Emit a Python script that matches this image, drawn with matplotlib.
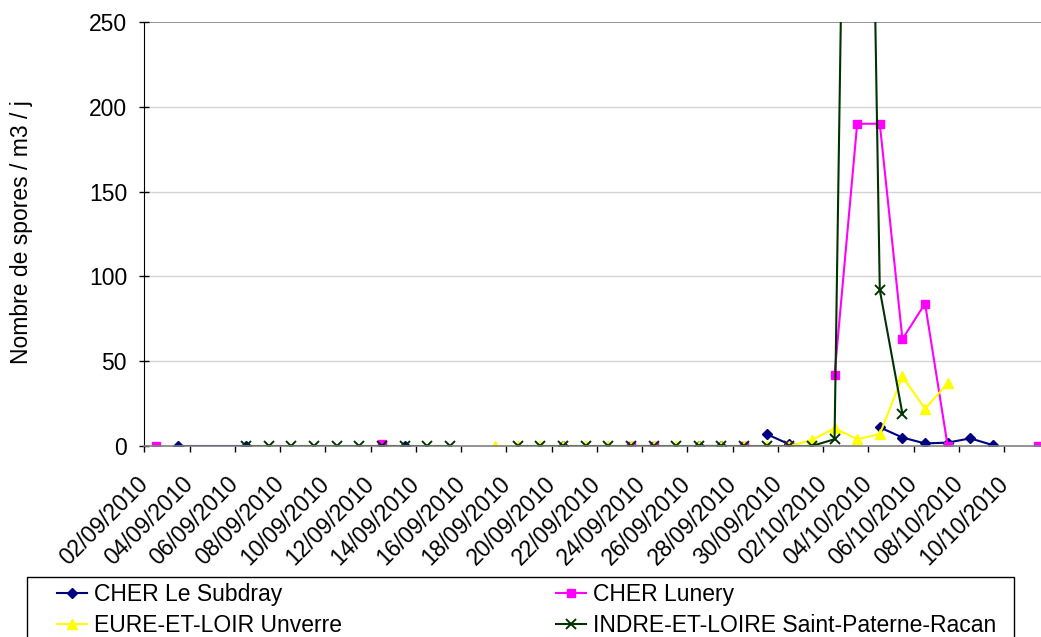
"""Nombre de spores / m3 / j - Sept./Oct. 2010, four trap sites."""
import numpy as np
import matplotlib
matplotlib.use('Agg')
import matplotlib.pyplot as plt
import matplotlib.transforms as mtransforms
from matplotlib.patches import Rectangle

plt.rcParams['font.family'] = ['Liberation Sans', 'DejaVu Sans']

dates = ['02/09/2010', '03/09/2010', '04/09/2010', '05/09/2010', '06/09/2010',
         '07/09/2010', '08/09/2010', '09/09/2010', '10/09/2010', '11/09/2010',
         '12/09/2010', '13/09/2010', '14/09/2010', '15/09/2010', '16/09/2010',
         '17/09/2010', '18/09/2010', '19/09/2010', '20/09/2010', '21/09/2010',
         '22/09/2010', '23/09/2010', '24/09/2010', '25/09/2010', '26/09/2010',
         '27/09/2010', '28/09/2010', '29/09/2010', '30/09/2010', '01/10/2010',
         '02/10/2010', '03/10/2010', '04/10/2010', '05/10/2010', '06/10/2010',
         '07/10/2010', '08/10/2010', '09/10/2010', '10/10/2010', '11/10/2010']

# None = empty cell (line breaks), 'NA' = #N/A (line joins over it)
subdray = [None, 0, 'NA', 'NA', 0, None, None, None, None, None,
           None, 0, None, None, None, None, None, None, 0, None,
           None, None, None, None, 0, 0, None, 7, 1, None,
           None, None, 11, 5, 1.5, 2, 4.5, 0.5, None, None]
lunery = [0, None, None, None, None, None, None, None, None, None,
          1, None, None, None, None, None, None, None, None, None,
          None, 0, 0, None, None, None, 0, None, 0, None,
          42, 190, 190, 63, 84, 0, None, None, None, 0]
unverre = [None, None, None, None, None, None, None, None, None, None,
           None, None, None, None, None, 0, 0, 0, 0, 0,
           0, 0, 0, 0, 0, 0, 0, 0, 0, 3.5,
           10.5, 4, 7, 41, 22, 37, None, None, None, None]
racan = [None, None, None, None, 0, 0, 0, 0, 0, 0,
         0, 0, 0, 0, None, None, 0, 0, 0, 0,
         0, 0, 0, 0, 0, 0, 0, 0, 0, 0,
         4, 895, 92, 19, None, None, None, None, None, None]

series = [
    ('CHER Le Subdray', subdray, '#000080', 'D', 5.5),
    ('CHER Lunery', lunery, '#FF00FF', 's', 6),
    ('EURE-ET-LOIR Unverre', unverre, '#FFFF00', '^', 7),
    ('INDRE-ET-LOIRE Saint-Paterne-Racan', racan, '#003300', 'x', 6.5),
]

W, H = 1041, 637
fig = plt.figure(figsize=(W / 100, H / 100), dpi=100)
ax = fig.add_axes([144.4 / W, 1 - 446 / H, 905.1 / W, 424 / H])

lines = []
for label, vals, color, marker, ms in series:
    xs = [i for i, v in enumerate(vals) if v != 'NA']
    ys = [np.nan if vals[i] is None else vals[i] for i in xs]
    ln, = ax.plot(xs, ys, color=color, lw=1.5, marker=marker, ms=ms,
                  mfc=color, mec=color, mew=1.4 if marker == 'x' else 1,
                  label=label)
    lines.append(ln)

ax.set_xlim(-0.5, len(dates) - 0.5)
ax.set_ylim(0, 250)

for y in [50, 100, 150, 200]:
    ax.axhline(y, color='#d4d4d4', lw=1, zorder=0)
ax.axhline(250, color='#808080', lw=1.2, zorder=0)

ax.set_yticks([0, 50, 100, 150, 200, 250])
ax.tick_params(axis='y', direction='inout', length=7, width=1, pad=9,
               labelsize=16.5, colors='black')

ax.set_xticks(np.arange(0, len(dates), 2) - 0.5, dates[::2])
ax.tick_params(axis='x', direction='out', length=4, width=1, pad=15,
               labelsize=16.5)
shift = mtransforms.ScaledTranslation(-8 / 100, 0, fig.dpi_scale_trans)
for t in ax.get_xticklabels():
    t.set_rotation(45)
    t.set_ha('right')
    t.set_va('top')
    t.set_rotation_mode('anchor')
    t.set_transform(t.get_transform() + shift)

for s in ['top', 'right']:
    ax.spines[s].set_visible(False)
ax.spines['left'].set_color('black')
ax.spines['bottom'].set_color('#808080')
ax.spines['bottom'].set_linewidth(1.2)

fig.text(22 / W, 1 - 232 / H, 'Nombre de spores / m3 / j', rotation=90,
         ha='center', va='center', fontsize=16.5)

# legend frame runs off the bottom of the picture
fig.add_artist(Rectangle((27 / W, 1 - 650 / H), 987 / W, 73 / H,
                         transform=fig.transFigure, fill=False,
                         edgecolor='black', lw=1, clip_on=False))
# row-wise order as in the original legend
order = [0, 2, 1, 3]
fig.legend(handles=[lines[k] for k in order], loc='upper left',
           bbox_to_anchor=(57 / W, 1 - 583 / H),
           ncol=2, frameon=False, fontsize=16.5, borderpad=0, borderaxespad=0,
           handlelength=1.3, handletextpad=0.3, columnspacing=9.35,
           labelspacing=0.33)

fig.savefig('out.png', dpi=100)
